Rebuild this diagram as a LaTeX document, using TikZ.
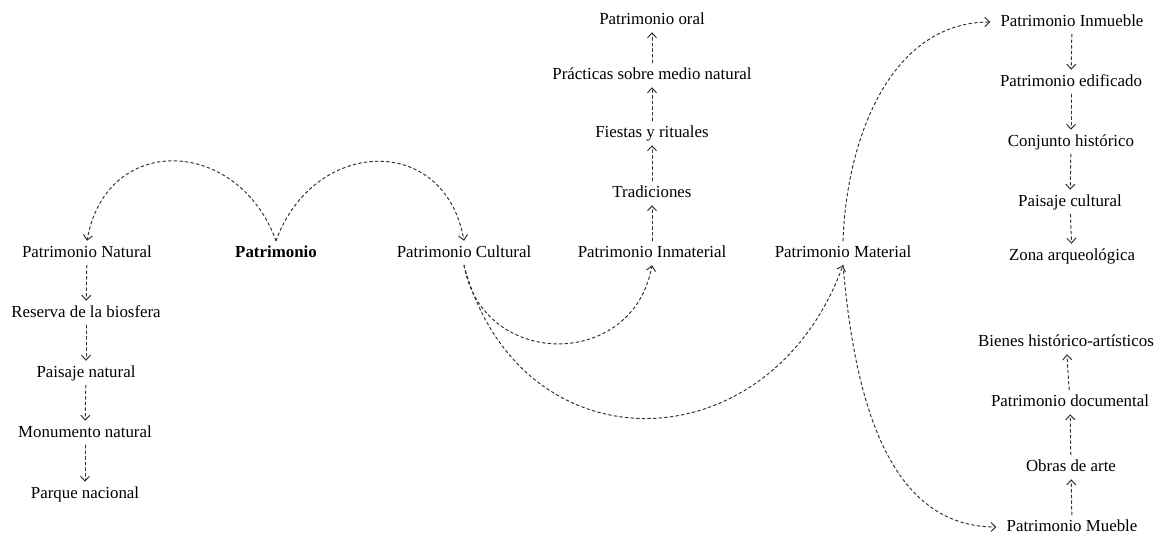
\documentclass[tikz,border=0pt]{standalone}
\usepackage{fontspec}
\setmainfont{Liberation Serif}
\usetikzlibrary{arrows.meta}
\begin{document}
\begin{tikzpicture}[x=0.25mm, y=0.25mm, font=\fontsize{12}{14}\selectfont, line join=round, line cap=round,
		>={Straight Barb[length=3.5pt,width=6.5pt]},
		box/.style={inner sep=3pt, text height=8.5pt, text depth=2.5pt, text=black},
		lnk/.style={->, draw=black!80, line width=0.7pt, dash pattern=on 2pt off 2pt}]
		\useasboundingbox (0,0) rectangle (1168,535);
		\node[box] (nat) at (87,282) {Patrimonio Natural};
		\node[box] (pat) at (276,282) {\textbf{Patrimonio}};
		\node[box] (cul) at (464,282) {Patrimonio Cultural};
		\node[box] (inm) at (652,282) {Patrimonio Inmaterial};
		\node[box] (mat) at (843,282) {Patrimonio Material};
		\node[box] (res) at (86,222) {Reserva de la biosfera};
		\node[box] (pnat) at (86,162) {Paisaje natural};
		\node[box] (mon) at (85,102) {Monumento natural};
		\node[box] (par) at (85,41) {Parque nacional};
		\node[box] (tra) at (652,342) {Tradiciones};
		\node[box] (fie) at (652,402) {Fiestas y rituales};
		\node[box] (pra) at (652,460) {Prácticas sobre medio natural};
		\node[box] (ora) at (652,515) {Patrimonio oral};
		\node[box] (inb) at (1072,513) {Patrimonio Inmueble};
		\node[box] (edi) at (1071,453) {Patrimonio edificado};
		\node[box] (con) at (1071,393) {Conjunto histórico};
		\node[box] (pcu) at (1070,333) {Paisaje cultural};
		\node[box] (zon) at (1072,279) {Zona arqueológica};
		\node[box] (bie) at (1066,193) {Bienes histórico-artísticos};
		\node[box] (doc) at (1070,133) {Patrimonio documental};
		\node[box] (obr) at (1071,68) {Obras de arte};
		\node[box] (mue) at (1072,8) {Patrimonio Mueble};
		\foreach \a/\b in {nat/res, res/pnat, pnat/mon, mon/par, inm/tra, tra/fie, fie/pra, pra/ora,
			inb/edi, edi/con, con/pcu, pcu/zon, mue/obr, obr/doc, doc/bie}
			\draw[lnk] (\a) -- (\b);
		\draw[lnk] (pat.north) to[out=110,in=80,looseness=1.5] (nat.north);
		\draw[lnk] (pat.north) to[out=70,in=100,looseness=1.5] (cul.north);
		\draw[lnk] (cul.south) to[out=-80,in=-100,looseness=1.45] (inm.south);
		\draw[lnk] (cul.south) to[out=-75,in=-110,looseness=1.45] (mat.south);
		\draw[lnk, shorten >=4pt] (mat.north) to[out=88,in=180,looseness=1.0] (inb.west);
		\draw[lnk, shorten >=4pt] (mat.south) to[out=-85,in=180] (mue.west);
		\end{tikzpicture}
\end{document}
